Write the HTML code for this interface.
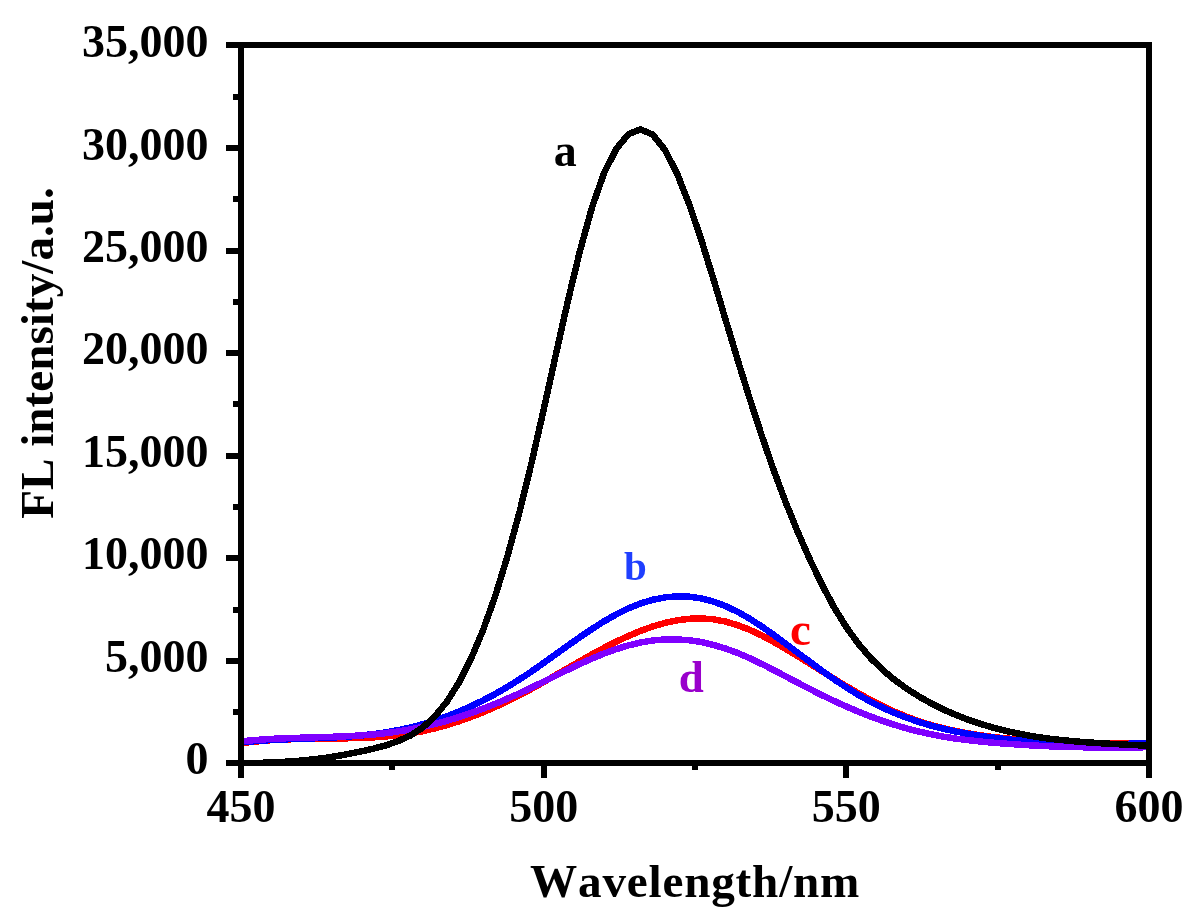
<!DOCTYPE html>
<html lang="en"><head><meta charset="utf-8"><title>FL intensity vs Wavelength</title>
<style>
html,body{margin:0;padding:0;background:#fff;}
body{width:1201px;height:922px;overflow:hidden;position:relative;}
svg{display:block;position:absolute;left:0;top:0;}
text{font-family:"Liberation Serif","Times New Roman",serif;font-weight:bold;font-kerning:none;}
.t{font-size:46px;fill:#000;}
.ax{font-size:47.2px;fill:#000;}
.c{fill:none;stroke-width:6.5;stroke-linejoin:round;stroke-linecap:butt;}
</style></head><body>
<svg width="1201" height="922" viewBox="0 0 1201 922">
<rect x="0" y="0" width="1201" height="922" fill="#fff"/>
<clipPath id="cp"><rect x="244" y="48" width="902" height="718"/></clipPath>

<g clip-path="url(#cp)" shape-rendering="crispEdges">
<path class="c" stroke="#ff0000" d="M241.0,743.2 L253.1,741.8 L265.2,740.6 L277.3,739.8 L289.4,739.3 L301.5,738.9 L313.6,738.7 L325.7,738.6 L337.9,738.5 L350.0,738.2 L362.1,737.9 L374.2,737.3 L386.3,736.4 L398.4,735.1 L410.5,733.4 L422.6,731.2 L434.7,728.4 L446.8,725.1 L458.9,721.3 L471.0,717.0 L483.1,712.2 L495.2,707.0 L507.3,701.3 L519.5,695.2 L531.6,688.8 L543.7,682.0 L555.8,675.1 L567.9,668.1 L580.0,661.1 L592.1,654.3 L604.2,647.8 L616.3,641.6 L628.4,636.0 L640.5,630.9 L652.6,626.5 L664.7,623.0 L676.8,620.4 L688.9,618.8 L701.1,618.4 L713.2,619.3 L725.3,621.5 L737.4,625.1 L749.5,629.7 L761.6,635.4 L773.7,641.9 L785.8,648.9 L797.9,656.3 L810.0,663.8 L822.1,671.4 L834.2,678.9 L846.3,686.2 L858.4,693.2 L870.5,699.9 L882.7,706.1 L894.8,711.8 L906.9,716.8 L919.0,721.3 L931.1,725.1 L943.2,728.3 L955.3,731.0 L967.4,733.3 L979.5,735.2 L991.6,736.9 L1003.7,738.2 L1015.8,739.3 L1027.9,740.3 L1040.0,741.0 L1052.1,741.7 L1064.3,742.1 L1076.4,742.5 L1088.5,742.8 L1100.6,743.0 L1112.7,743.1 L1124.8,743.2 L1136.9,743.3 L1149.0,743.3"/>
<path class="c" stroke="#0000ff" d="M241.0,742.3 L253.1,741.3 L265.2,740.4 L277.3,739.7 L289.4,739.2 L301.5,738.8 L313.6,738.3 L325.7,737.8 L337.9,737.2 L350.0,736.4 L362.1,735.4 L374.2,734.0 L386.3,732.3 L398.4,730.1 L410.5,727.5 L422.6,724.3 L434.7,720.6 L446.8,716.4 L458.9,711.6 L471.0,706.3 L483.1,700.4 L495.2,694.0 L507.3,687.0 L519.5,679.4 L531.6,671.4 L543.7,662.9 L555.8,654.3 L567.9,645.6 L580.0,637.1 L592.1,628.9 L604.2,621.2 L616.3,614.4 L628.4,608.4 L640.5,603.5 L652.6,599.8 L664.7,597.4 L676.8,596.4 L688.9,596.7 L701.1,598.4 L713.2,601.5 L725.3,606.0 L737.4,611.7 L749.5,618.6 L761.6,626.4 L773.7,634.9 L785.8,643.8 L797.9,652.9 L810.0,661.9 L822.1,670.9 L834.2,679.4 L846.3,687.4 L858.4,694.9 L870.5,701.7 L882.7,707.7 L894.8,713.1 L906.9,717.8 L919.0,722.0 L931.1,725.6 L943.2,728.7 L955.3,731.4 L967.4,733.7 L979.5,735.7 L991.6,737.4 L1003.7,738.9 L1015.8,740.1 L1027.9,741.2 L1040.0,742.1 L1052.1,742.9 L1064.3,743.4 L1076.4,743.8 L1088.5,744.1 L1100.6,744.2 L1112.7,744.1 L1124.8,743.9 L1136.9,743.5 L1149.0,743.0"/>
<path class="c" stroke="#7f00ff" d="M241.0,741.3 L253.1,740.2 L265.2,739.3 L277.3,738.6 L289.4,738.1 L301.5,737.7 L313.6,737.4 L325.7,737.0 L337.9,736.6 L350.0,736.1 L362.1,735.3 L374.2,734.4 L386.3,733.1 L398.4,731.4 L410.5,729.4 L422.6,726.9 L434.7,724.1 L446.8,720.8 L458.9,717.1 L471.0,713.1 L483.1,708.6 L495.2,703.9 L507.3,698.7 L519.5,693.3 L531.6,687.5 L543.7,681.6 L555.8,675.6 L567.9,669.7 L580.0,663.9 L592.1,658.5 L604.2,653.5 L616.3,649.1 L628.4,645.4 L640.5,642.5 L652.6,640.5 L664.7,639.4 L676.8,639.4 L688.9,640.2 L701.1,642.0 L713.2,644.8 L725.3,648.5 L737.4,652.9 L749.5,658.1 L761.6,663.9 L773.7,670.0 L785.8,676.4 L797.9,682.8 L810.0,689.1 L822.1,695.2 L834.2,701.0 L846.3,706.5 L858.4,711.7 L870.5,716.5 L882.7,720.9 L894.8,724.9 L906.9,728.5 L919.0,731.6 L931.1,734.3 L943.2,736.6 L955.3,738.5 L967.4,740.1 L979.5,741.4 L991.6,742.6 L1003.7,743.5 L1015.8,744.4 L1027.9,745.2 L1040.0,745.8 L1052.1,746.4 L1064.3,746.8 L1076.4,747.1 L1088.5,747.4 L1100.6,747.5 L1112.7,747.6 L1124.8,747.5 L1136.9,747.4 L1149.0,747.1"/>
<path class="c" stroke="#000000" d="M241.0,763.1 L253.1,763.0 L265.2,762.7 L277.3,762.2 L289.4,761.5 L301.5,760.6 L313.6,759.3 L325.7,757.8 L337.9,755.9 L350.0,753.7 L362.1,751.2 L374.2,748.5 L386.3,745.2 L398.4,741.0 L410.5,735.4 L422.6,727.6 L434.7,716.6 L446.8,701.8 L458.9,682.6 L471.0,658.8 L483.1,630.0 L495.2,596.2 L507.3,556.8 L519.5,512.1 L531.6,462.6 L543.7,409.5 L555.8,354.7 L567.9,300.9 L580.0,250.7 L592.1,207.1 L604.2,172.8 L616.3,148.8 L628.4,134.2 L640.5,129.4 L652.6,134.5 L664.7,149.6 L676.8,172.9 L688.9,203.4 L701.1,239.2 L713.2,278.4 L725.3,318.8 L737.4,359.0 L749.5,398.0 L761.6,435.2 L773.7,470.2 L785.8,502.6 L797.9,532.3 L810.0,559.7 L822.1,584.9 L834.2,607.5 L846.3,627.1 L858.4,643.8 L870.5,658.0 L882.7,669.9 L894.8,680.1 L906.9,688.8 L919.0,696.5 L931.1,703.3 L943.2,709.4 L955.3,714.7 L967.4,719.4 L979.5,723.6 L991.6,727.2 L1003.7,730.4 L1015.8,733.1 L1027.9,735.4 L1040.0,737.4 L1052.1,739.0 L1064.3,740.3 L1076.4,741.5 L1088.5,742.4 L1100.6,743.2 L1112.7,743.9 L1124.8,744.6 L1136.9,745.2 L1149.0,745.8"/>
</g>
<g fill="#000" shape-rendering="crispEdges">
<rect x="238" y="42" width="914" height="6"/>
<rect x="238" y="760" width="914" height="6"/>
<rect x="238" y="42" width="6" height="736"/>
<rect x="1146" y="42" width="6" height="736"/>
<rect x="226" y="760" width="12" height="6"/>
<rect x="233" y="709" width="5" height="6"/>
<rect x="226" y="658" width="12" height="6"/>
<rect x="233" y="607" width="5" height="6"/>
<rect x="226" y="555" width="12" height="6"/>
<rect x="233" y="504" width="5" height="6"/>
<rect x="226" y="453" width="12" height="6"/>
<rect x="233" y="401" width="5" height="6"/>
<rect x="226" y="350" width="12" height="6"/>
<rect x="233" y="299" width="5" height="6"/>
<rect x="226" y="248" width="12" height="6"/>
<rect x="233" y="196" width="5" height="6"/>
<rect x="226" y="145" width="12" height="6"/>
<rect x="233" y="94" width="5" height="6"/>
<rect x="226" y="42" width="12" height="6"/>
<rect x="238" y="766" width="6" height="12"/>
<rect x="389" y="766" width="6" height="4"/>
<rect x="541" y="766" width="6" height="12"/>
<rect x="692" y="766" width="6" height="4"/>
<rect x="843" y="766" width="6" height="12"/>
<rect x="995" y="766" width="6" height="4"/>
<rect x="1146" y="766" width="6" height="12"/>
</g>
<text class="t" x="208.5" y="774.0" text-anchor="end">0</text>
<text class="t" x="208.5" y="671.6" text-anchor="end">5,000</text>
<text class="t" x="208.5" y="569.2" text-anchor="end">10,000</text>
<text class="t" x="208.5" y="466.8" text-anchor="end">15,000</text>
<text class="t" x="208.5" y="364.4" text-anchor="end">20,000</text>
<text class="t" x="208.5" y="262.0" text-anchor="end">25,000</text>
<text class="t" x="208.5" y="159.6" text-anchor="end">30,000</text>
<text class="t" x="208.5" y="57.2" text-anchor="end">35,000</text>
<text class="t" x="241.0" y="822.0" text-anchor="middle">450</text>
<text class="t" x="543.7" y="822.0" text-anchor="middle">500</text>
<text class="t" x="846.3" y="822.0" text-anchor="middle">550</text>
<text class="t" x="1149.0" y="822.0" text-anchor="middle">600</text>
<text class="ax" x="530" y="897.3" style="letter-spacing:0.8px">Wavelength/nm</text>
<text class="ax" transform="translate(53,353) rotate(-90)" text-anchor="middle">FL intensity/a.u.</text>
<text x="553.7" y="166" style="font-size:46px" fill="#000">a</text>
<text x="624" y="580" style="font-size:41px" fill="#1f3fff">b</text>
<text x="790" y="645" style="font-size:47px" fill="#ff0000">c</text>
<text x="678.7" y="692" style="font-size:45px" fill="#9900cc">d</text>
</svg>
</body></html>
